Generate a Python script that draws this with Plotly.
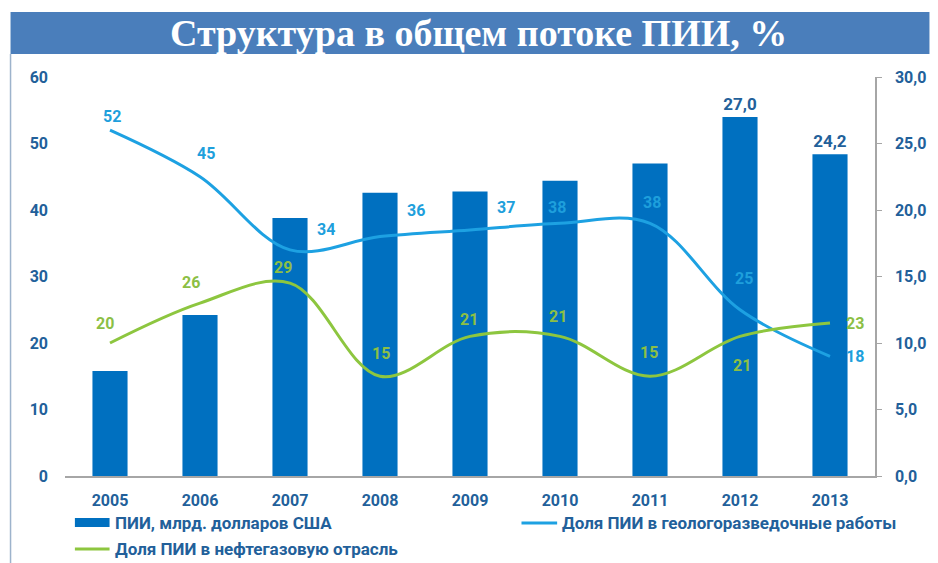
import plotly.graph_objects as go

# --- data -------------------------------------------------------------
years = ["2005", "2006", "2007", "2008", "2009", "2010", "2011", "2012", "2013"]
fdi_bn_usd = [7.9, 12.1, 19.4, 21.3, 21.4, 22.2, 23.5, 27.0, 24.2]
fdi_labelled = [False, False, False, False, False, False, False, True, True]
share_exploration = [52, 45, 34, 36, 37, 38, 38, 25, 18]
share_oil_gas = [20, 26, 29, 15, 21, 21, 15, 21, 23]

title_text = "Структура в общем потоке ПИИ, %"
name_bars = "ПИИ, млрд. долларов США"
name_expl = "Доля ПИИ в геологоразведочные работы"
name_oil = "Доля ПИИ в нефтегазовую отрасль"

# --- style --------------------------------------------------------------
W, H = 938, 563
PL, PR, PT, PB = 65, 883, 77, 476
BAR = "#0070C0"
BLUE = "#1DA1E2"
GREEN = "#8DC63F"
BLUE_TXT = "#1E9FDC"
GREEN_TXT = "#8CBF45"
AXIS_TXT = "#22609A"
FONT = "Roboto"

# pixel offsets of the value labels from their points (dx right, dy up)
expl_dx = [2, 6, 36, 36, 36, -3, 2, 4, 25]
expl_dy = [14, 23, 20, 26, 22, 16, 21, 31, 0]
oil_dx = [-5, -9, -7, 1, -1, -2, -1, 2, 25]
oil_dy = [20, 21, 16, 23, 17, 20, 24, -29, 0]


def px(x):
    return (x - PL) / (PR - PL)


def py(y):
    return (PB - y) / (PB - PT)


def fmt(v):
    return f"{v:.1f}".replace(".", ",")


bar_text = [fmt(v) if show else "" for v, show in zip(fdi_bn_usd, fdi_labelled)]

fig = go.Figure()

fig.add_trace(go.Bar(
    x=years, y=fdi_bn_usd, name=name_bars, yaxis="y",
    marker=dict(color=BAR, line=dict(width=0)), width=0.39,
    text=bar_text, textposition="outside", cliponaxis=False,
    textfont=dict(family=FONT, size=17, color=AXIS_TXT, weight="bold"),
))

fig.add_trace(go.Scatter(
    x=years, y=share_exploration, name=name_expl, yaxis="y2",
    mode="lines", line=dict(color=BLUE, width=3, shape="spline", smoothing=1.0),
))

fig.add_trace(go.Scatter(
    x=years, y=share_oil_gas, name=name_oil, yaxis="y2",
    mode="lines", line=dict(color=GREEN, width=3, shape="spline", smoothing=1.0),
))

tick_font = dict(family=FONT, size=16, color=AXIS_TXT, weight="bold")

shapes = [
    # heading band
    dict(type="rect", xref="paper", yref="paper", x0=px(10), x1=px(W), y0=py(54), y1=py(12),
         fillcolor="#4A7EBB", line=dict(width=0), layer="below"),
    # left frame line
    dict(type="line", xref="paper", yref="paper", x0=px(10), x1=px(10), y0=py(54), y1=py(H),
         line=dict(color="#9DB3CC", width=1.5)),
    # legend swatches
    dict(type="rect", xref="paper", yref="paper", x0=px(75), x1=px(110), y0=py(527), y1=py(518),
         fillcolor=BAR, line=dict(width=0)),
    dict(type="line", xref="paper", yref="paper", x0=px(526), x1=px(562), y0=py(523), y1=py(523),
         line=dict(color=BLUE, width=3)),
    dict(type="line", xref="paper", yref="paper", x0=px(75), x1=px(110), y0=py(549), y1=py(549),
         line=dict(color=GREEN, width=3)),
]

leg_font = dict(family=FONT, size=17, color=AXIS_TXT, weight="bold")
annotations = [
    dict(text=title_text, xref="paper", yref="paper", x=px(483), y=py(33),
         xanchor="center", yanchor="middle", showarrow=False,
         font=dict(family="Liberation Serif", size=38, color="white", weight="bold")),
    dict(text=name_bars, xref="paper", yref="paper", x=px(113), y=py(523),
         xanchor="left", yanchor="middle", showarrow=False, font=leg_font),
    dict(text=name_expl, xref="paper", yref="paper", x=px(565), y=py(523),
         xanchor="left", yanchor="middle", showarrow=False, font=leg_font),
    dict(text=name_oil, xref="paper", yref="paper", x=px(113), y=py(549),
         xanchor="left", yanchor="middle", showarrow=False, font=leg_font),
]

# value labels for the two share lines (x given as category index)
for vals, dxs, dys, col in ((share_exploration, expl_dx, expl_dy, BLUE_TXT),
                            (share_oil_gas, oil_dx, oil_dy, GREEN_TXT)):
    for i, (v, dx, dy) in enumerate(zip(vals, dxs, dys)):
        annotations.append(dict(
            text=str(v), x=i, y=v, xref="x", yref="y2",
            xanchor="center", yanchor="middle", xshift=dx, yshift=dy,
            showarrow=False,
            font=dict(family=FONT, size=16, color=col, weight="bold"),
        ))

fig.update_layout(
    width=W, height=H,
    margin=dict(l=PL, r=W - PR, t=PT, b=H - PB, pad=0),
    paper_bgcolor="white", plot_bgcolor="white",
    separators=", ",
    showlegend=False,
    xaxis=dict(type="category", range=[-0.5, len(years) - 0.5], autorange=False,
               showgrid=False, zeroline=False,
               showline=True, linecolor="#A6A6A6", linewidth=1.5,
               ticks="", tickfont=tick_font, ticklabelstandoff=9),
    yaxis=dict(side="right", range=[0, 30], dtick=5, tickformat=".1f",
               showgrid=False, zeroline=False,
               showline=True, linecolor="#A6A6A6", linewidth=1.5,
               ticks="outside", ticklen=5, tickcolor="#A6A6A6",
               tickfont=tick_font, ticklabelstandoff=10),
    yaxis2=dict(side="left", overlaying="y", range=[0, 60], dtick=10,
                showgrid=False, zeroline=False, showline=False, ticks="",
                tickfont=tick_font, ticklabelstandoff=16),
    shapes=shapes,
    annotations=annotations,
)

fig.write_html("out.html")
